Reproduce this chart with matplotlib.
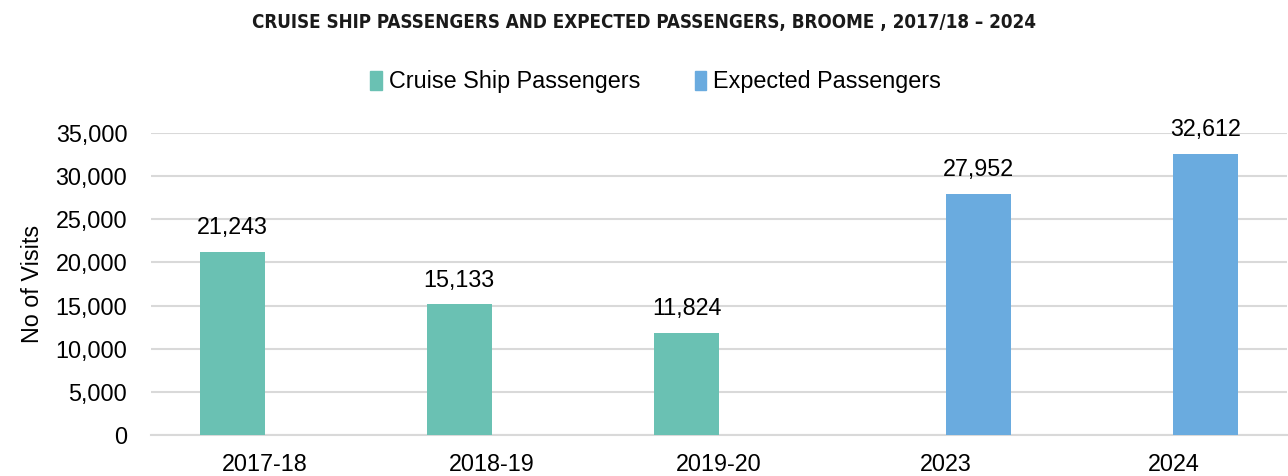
import numpy as np
import matplotlib.pyplot as plt
from matplotlib.ticker import FuncFormatter
from matplotlib.patches import Patch

# === DATI ===
periodi = ["2017-18", "2018-19", "2019-20", "2023", "2024"]
passeggeri = [21243, 15133, 11824, None, None]
attesi = [None, None, None, 27952, 32612]

col_crociere = "#6AC1B3"
col_attesi = "#6AABDF"
col_griglia = "#D9D9D9"

plt.rcParams['font.family'] = ['Liberation Sans', 'DejaVu Sans']
fs = 16.8

fig = plt.figure(figsize=(12.88, 4.76), dpi=100)
ax = fig.add_axes([0.1172, 0.0861, 0.882, 0.6345])

x = np.arange(len(periodi))
w = 0.286

for i in range(len(periodi)):
    if passeggeri[i] is not None:
        ax.bar(x[i] - w / 2, passeggeri[i], w, color=col_crociere, zorder=3)
        ax.annotate(f"{passeggeri[i]:,}", (x[i] - w / 2, passeggeri[i]),
                    xytext=(0, 9), textcoords='offset points',
                    ha='center', va='bottom', fontsize=fs)
    if attesi[i] is not None:
        ax.bar(x[i] + w / 2, attesi[i], w, color=col_attesi, zorder=3)
        ax.annotate(f"{attesi[i]:,}", (x[i] + w / 2, attesi[i]),
                    xytext=(0, 9), textcoords='offset points',
                    ha='center', va='bottom', fontsize=fs)

ax.set_xlim(-0.5, len(periodi) - 0.5)
ax.set_ylim(0, 35000)
ax.set_yticks(np.arange(0, 35001, 5000))
ax.yaxis.set_major_formatter(FuncFormatter(lambda v, p: f"{int(v):,}"))
ax.set_xticks(x)
ax.set_xticklabels(periodi)
ax.tick_params(axis='both', length=0, labelsize=fs, colors='black')
ax.tick_params(axis='x', pad=13)
ax.tick_params(axis='y', pad=17)
ax.grid(axis='y', color=col_griglia, linewidth=1.5, zorder=0)
for s in ['top', 'right', 'left']:
    ax.spines[s].set_visible(False)
ax.spines['bottom'].set_color(col_griglia)
ax.spines['bottom'].set_linewidth(1.5)
ax.set_ylabel("No of Visits", fontsize=fs, labelpad=8)

# legenda
maniglie = [Patch(color=col_crociere, label="Cruise Ship Passengers"),
            Patch(color=col_attesi, label="Expected Passengers")]
fig.legend(handles=maniglie, loc='center', bbox_to_anchor=(0.509, 0.828),
           ncol=2, frameon=False, fontsize=fs, handlelength=0.5, handleheight=0.9,
           handletextpad=0.3, columnspacing=2.35)

fig.text(0.5, 0.953, "CRUISE SHIP PASSENGERS AND EXPECTED PASSENGERS, BROOME , 2017/18 \u2013 2024",
         ha='center', va='center', fontsize=13.5, fontweight='heavy',
         fontstretch='condensed', family='DejaVu Sans', color='#1a1a1a')

fig.savefig("out.png", dpi=100)
